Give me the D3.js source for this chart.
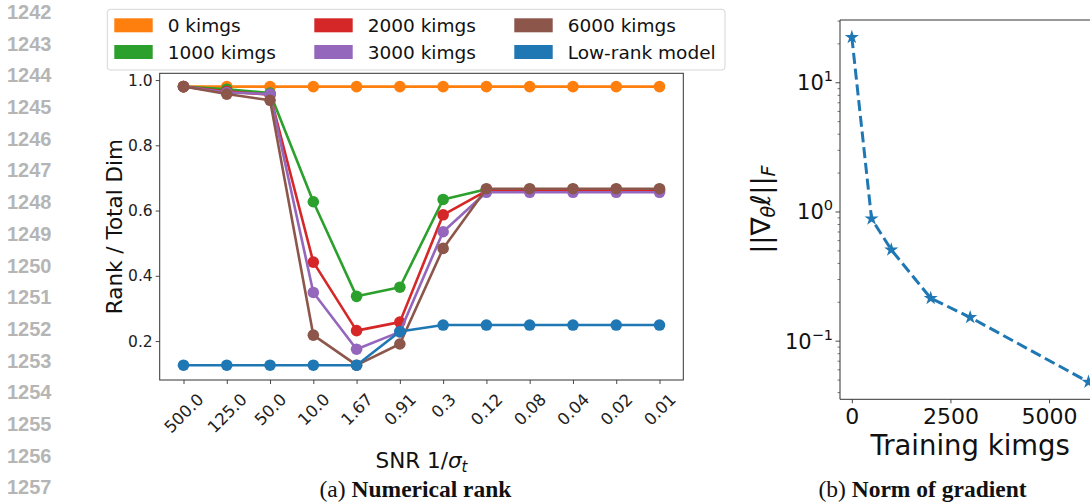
<!DOCTYPE html>
<html><head><meta charset="utf-8">
<script src="https://cdn.jsdelivr.net/npm/d3@7"></script>
<style>body{margin:0;background:#fff;} svg{display:block;}</style>
</head><body>
<svg id="c" width="1090" height="504"></svg>
<script>
// ---- data ----
const categories = ["500.0","125.0","50.0","10.0","1.67","0.91","0.3","0.12","0.08","0.04","0.02","0.01"];
const seriesNames = ["0 kimgs","1000 kimgs","2000 kimgs","3000 kimgs","6000 kimgs","Low-rank model"];
const k0      = [0.98,0.98,0.98,0.98,0.98,0.98,0.98,0.98,0.98,0.98,0.98,0.98];
const k1000   = [0.98,0.972,0.96,0.627,0.337,0.365,0.634,0.665,0.665,0.665,0.665,0.665];
const k2000   = [0.98,0.965,0.955,0.442,0.232,0.258,0.587,0.66,0.66,0.66,0.66,0.66];
const k3000   = [0.98,0.962,0.957,0.349,0.175,0.228,0.535,0.656,0.656,0.656,0.656,0.656];
const k6000   = [0.98,0.957,0.938,0.218,0.126,0.191,0.484,0.667,0.667,0.667,0.667,0.667];
const lowRank = [0.126,0.126,0.126,0.126,0.126,0.229,0.249,0.249,0.249,0.249,0.249,0.249];
const leftYTicks = [0.2,0.4,0.6,0.8,1.0];

const kimgs = [0,500,1000,2000,3000,6000];
const gradNorm = [22.5,0.887,0.51,0.215,0.153,0.0483];
const rightXTicks = [0,2500,5000];
const rightYTicks = [0.1,1,10];
const lineNumbers = d3.range(1242,1258);

const colors = ["#ff7f0e","#2ca02c","#d62728","#9467bd","#8c564b","#1f77b4"];
const allSeries = [k0,k1000,k2000,k3000,k6000,lowRank];

const svg = d3.select("#c");
const SANS = "DejaVu Sans";

// ---- line numbers ----
svg.append("g").selectAll("text").data(lineNumbers).join("text")
  .attr("x",7).attr("y",(d,i)=>11.7+i*31.7+7.2)
  .attr("font-family","Liberation Sans").attr("font-weight","bold")
  .attr("font-size",20).attr("fill","#b5b5b5").text(d=>d);

// ---- left chart ----
const L = {x0:159.7,x1:683.3,y0:73.3,y1:380};
const xL = d3.scaleLinear().domain([-0.55,categories.length-1+0.55]).range([L.x0,L.x1]);
const yL = d3.scaleLinear().domain([0.0806,1.0207]).range([L.y1,L.y0]);

const gL = svg.append("g");
// y axis
const yAx = gL.append("g").attr("transform",`translate(${L.x0},0)`)
  .call(d3.axisLeft(yL).tickValues(leftYTicks).tickFormat(d3.format(".1f")).tickSize(4).tickPadding(3));
yAx.select(".domain").remove();
yAx.selectAll("line").attr("stroke","#333").attr("stroke-width",0.9);
yAx.selectAll("text").attr("font-family",SANS).attr("font-size",15.5).attr("fill","#222");
// x axis
const xAx = gL.append("g").attr("transform",`translate(0,${L.y1})`)
  .call(d3.axisBottom(xL).tickValues(d3.range(categories.length)).tickFormat(i=>categories[i]).tickSize(4));
xAx.select(".domain").remove();
xAx.selectAll("line").attr("stroke","#333").attr("stroke-width",0.9);
xAx.selectAll("text").each(function(i){
  const t = d3.select(this);
  t.attr("font-family",SANS).attr("font-size",16.5).attr("fill","#222")
   .attr("text-anchor","middle").attr("dy",null).attr("y",null).attr("dominant-baseline","central");
  const len = this.getComputedTextLength();
  const h = 13;
  const cy = 12 + (len+h)*0.7071/2;
  t.attr("transform",`translate(0,${cy}) rotate(-45)`);
});
// lines
const lineL = d3.line().x((d,i)=>xL(i)).y(d=>yL(d));
allSeries.forEach((s,k)=>{
  const g = gL.append("g");
  g.append("path").datum(s).attr("d",lineL).attr("fill","none")
    .attr("stroke",colors[k]).attr("stroke-width",2.6).attr("stroke-linejoin","round");
  g.selectAll("circle").data(s).join("circle")
    .attr("cx",(d,i)=>xL(i)).attr("cy",d=>yL(d)).attr("r",5.8).attr("fill",colors[k]);
});
// frame
gL.append("rect").attr("x",L.x0).attr("y",L.y0).attr("width",L.x1-L.x0).attr("height",L.y1-L.y0)
  .attr("fill","none").attr("stroke","#333").attr("stroke-width",1);
// labels
gL.append("text").attr("transform",`translate(122,${(L.y0+L.y1)/2}) rotate(-90)`)
  .attr("text-anchor","middle").attr("font-family",SANS).attr("font-size",21.5).attr("fill","#111")
  .text("Rank / Total Dim");
const xl = gL.append("text").attr("x",(L.x0+L.x1)/2).attr("y",468).attr("text-anchor","middle")
  .attr("font-family",SANS).attr("font-size",21.5).attr("fill","#111");
xl.append("tspan").text("SNR 1/");
xl.append("tspan").attr("font-style","italic").text("σ");
xl.append("tspan").attr("font-style","italic").attr("font-size",15).attr("dy",3.5).text("t");

// legend
const lg = svg.append("g");
lg.append("rect").attr("x",107.3).attr("y",9.3).attr("width",617.7).attr("height",60.7)
  .attr("rx",3).attr("fill","#fff").attr("fill-opacity",0.85).attr("stroke","#d6d6d6").attr("stroke-width",1);
const colX = [114.3,314.3,514.3];
const rowY = [25.3,52];
seriesNames.forEach((n,k)=>{
  const c = Math.floor(k/2), r = k%2;
  lg.append("rect").attr("x",colX[c]).attr("y",rowY[r]-7).attr("width",38.4).attr("height",14)
    .attr("fill",colors[k]);
  lg.append("text").attr("x",colX[c]+53.4).attr("y",rowY[r]).attr("dominant-baseline","central")
    .attr("font-family",SANS).attr("font-size",18.5).attr("fill","#111").text(n);
});

// ---- right chart ----
const R = {x0:840,x1:1100.3,y0:20,y1:399.3};
const xR = d3.scaleLinear().domain([-300,6300]).range([R.x0,R.x1]);
const yR = d3.scaleLog().domain([0.0355,30.6]).range([R.y1,R.y0]);
const gR = svg.append("g");
// minor ticks
const minor = [];
[0.01,0.1,1,10].forEach(b=>{for(let m=2;m<=9;m++){const v=b*m; if(v>=0.0355&&v<=30.6) minor.push(v);}});
gR.selectAll("line.minor").data(minor).join("line").attr("class","minor")
  .attr("x1",R.x0-2.5).attr("x2",R.x0).attr("y1",d=>yR(d)).attr("y2",d=>yR(d))
  .attr("stroke","#444").attr("stroke-width",0.7);
gR.selectAll("line.major").data(rightYTicks).join("line").attr("class","major")
  .attr("x1",R.x0-4.5).attr("x2",R.x0).attr("y1",d=>yR(d)).attr("y2",d=>yR(d))
  .attr("stroke","#333").attr("stroke-width",0.9);
const exps = {0.1:"−1",1:"0",10:"1"};
rightYTicks.forEach(v=>{
  const t = gR.append("text").attr("x",833).attr("y",yR(v)+7.5).attr("text-anchor","end")
    .attr("font-family",SANS).attr("font-size",21).attr("fill","#111");
  t.append("tspan").text("10");
  t.append("tspan").attr("font-size",14.5).attr("dy",-9).text(exps[v]);
});
const xAxR = gR.append("g").attr("transform",`translate(0,${R.y1})`)
  .call(d3.axisBottom(xR).tickValues(rightXTicks).tickFormat(d3.format("d")).tickSize(4).tickPadding(5));
xAxR.select(".domain").remove();
xAxR.selectAll("line").attr("stroke","#333").attr("stroke-width",0.9);
xAxR.selectAll("text").attr("font-family",SANS).attr("font-size",22).attr("fill","#111");
// line
const lineR = d3.line().x((d,i)=>xR(kimgs[i])).y(d=>yR(d));
gR.append("path").datum(gradNorm).attr("d",lineR).attr("fill","none")
  .attr("stroke","#1f77b4").attr("stroke-width",3).attr("stroke-dasharray","11,4.8");
gR.selectAll("path.star").data(gradNorm).join("path").attr("class","star")
  .attr("d",d3.symbol().type(d3.symbolStar).size(62))
  .attr("transform",(d,i)=>`translate(${xR(kimgs[i])},${yR(d)})`).attr("fill","#1f77b4");
// frame
gR.append("path").attr("d",`M${R.x1},${R.y0}H${R.x0}V${R.y1}H${R.x1}`)
  .attr("fill","none").attr("stroke","#333").attr("stroke-width",1);
// labels
const yl = gR.append("text").attr("transform",`translate(770,${(R.y0+R.y1)/2}) rotate(-90)`)
  .attr("text-anchor","middle").attr("font-family",SANS).attr("font-size",27).attr("fill","#111");
yl.append("tspan").text("||∇");
yl.append("tspan").attr("font-style","italic").attr("font-size",19).attr("dy",5).text("θ");
yl.append("tspan").attr("font-style","italic").attr("dy",-5).text("ℓ");
yl.append("tspan").text("||");
yl.append("tspan").attr("font-style","italic").attr("font-size",19).attr("dy",5).text("F");
gR.append("text").attr("x",(R.x0+R.x1)/2).attr("y",455).attr("text-anchor","middle")
  .attr("font-family",SANS).attr("font-size",27.5).attr("fill","#111").text("Training kimgs");

// ---- captions ----
function caption(x,label,bold){
  const t = svg.append("text").attr("x",x).attr("y",497).attr("text-anchor","middle")
    .attr("font-family","Liberation Serif").attr("font-size",23.5).attr("fill","#111");
  t.append("tspan").text(label+" ");
  t.append("tspan").attr("font-weight","bold").text(bold);
}
caption(415.5,"(a)","Numerical rank");
caption(922.5,"(b)","Norm of gradient");
</script>
</body></html>
